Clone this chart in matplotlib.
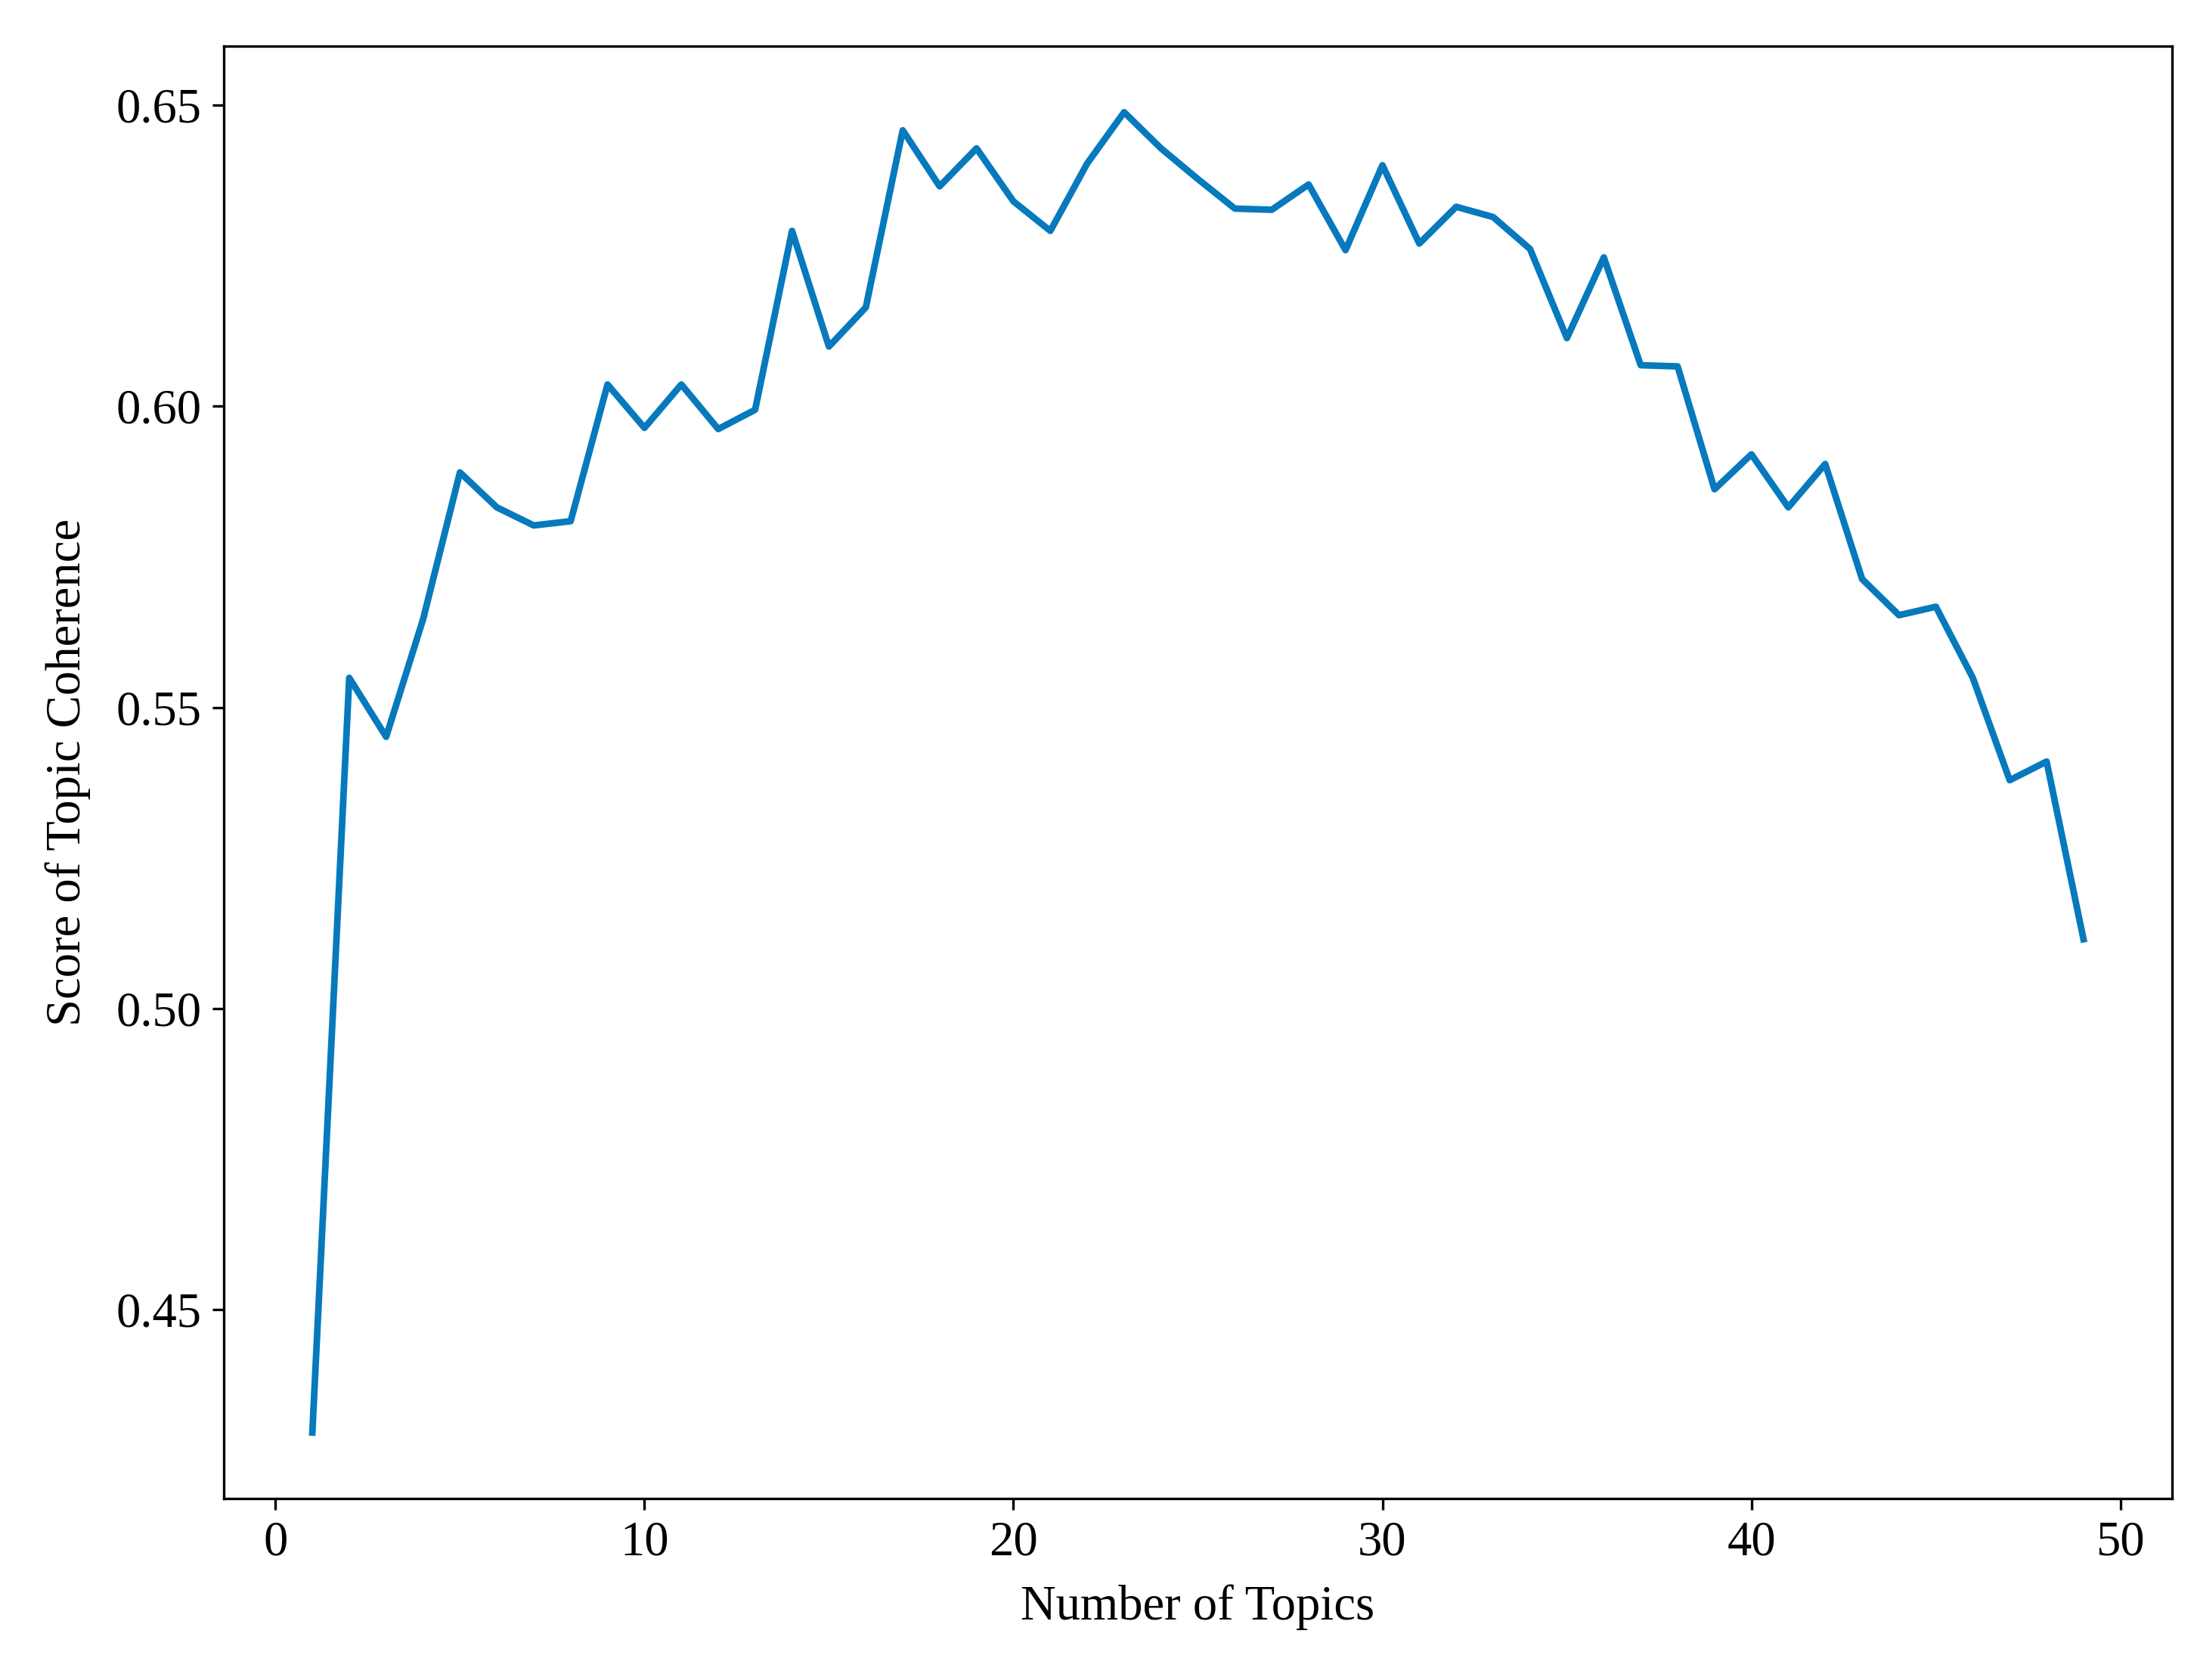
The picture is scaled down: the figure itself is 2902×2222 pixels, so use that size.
import matplotlib
matplotlib.use('Agg')
import matplotlib.pyplot as plt

# coherence scores per topic count
num_topics = list(range(1, 50))
coherence = [0.4296, 0.5549, 0.5451, 0.5646, 0.5890, 0.5832, 0.5802, 0.5809, 0.6036, 0.5964,
             0.6036, 0.5962, 0.5994, 0.6291, 0.6099, 0.6164, 0.6458, 0.6365, 0.6428, 0.6340,
             0.6291, 0.6403, 0.6488, 0.6428, 0.6377, 0.6328, 0.6326, 0.6368, 0.6259, 0.6400,
             0.6270, 0.6331, 0.6314, 0.6261, 0.6113, 0.6247, 0.6068, 0.6066, 0.5862, 0.5920,
             0.5832, 0.5904, 0.5713, 0.5653, 0.5667, 0.5549, 0.5379, 0.5410, 0.5115]

plt.rcParams['font.family'] = ['Liberation Serif', 'DejaVu Serif']
plt.rcParams['font.size'] = 15.5

fig = plt.figure(figsize=(2902/300, 2222/300), dpi=300)
ax = fig.add_axes([0.102, 0.108, 0.888, 0.8645])
ax.plot(num_topics, coherence, color='#0779bd', linewidth=2.1)
ax.set_xlabel('Number of Topics', labelpad=6)
ax.set_ylabel('Score of Topic Coherence', labelpad=8)
ax.set_yticks([0.45, 0.50, 0.55, 0.60, 0.65])
ax.set_yticklabels(['0.45', '0.50', '0.55', '0.60', '0.65'])
fig.savefig('out.png', dpi=300)
